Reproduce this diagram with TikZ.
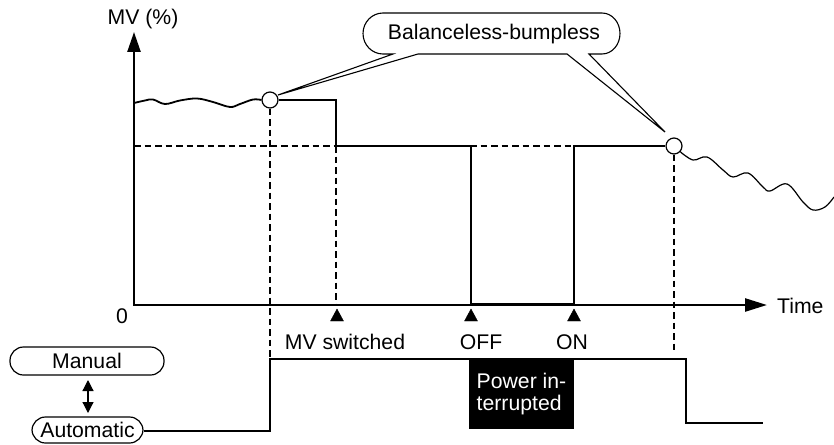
\documentclass[tikz,border=0pt]{standalone}
\usepackage{fontspec}
\setmainfont{Liberation Sans}
\usetikzlibrary{arrows.meta}
\begin{document}
\begin{tikzpicture}[x=1pt,y=-1pt,
  font=\fontsize{21.2}{22.5}\selectfont,
  axis/.style={line width=2.5pt,line join=miter},
  sig/.style={line width=1.9pt,line join=miter},
  lowsig/.style={line width=2.3pt,line join=miter},
  dashline/.style={line width=1.6pt,dash pattern=on 6.5pt off 4pt},
  knot/.style={circle,draw,fill=white,line width=1.2pt,minimum size=16pt,inner sep=0pt},
  pill/.style={draw,line width=1.2pt,rounded corners=13.5pt,inner sep=0pt},
  evtri/.style={fill=black},
  lbl/.style={inner sep=0pt}
]
\useasboundingbox (0,0) rectangle (834,444);

% axes
\draw[axis,{Triangle[length=20pt,width=13pt]}-{Triangle[length=22pt,width=13pt]}]
  (134,32) -- (134,305) -- (767,305);
\node[lbl] (mvlabel) at (143,19) {MV (\%)};
\node[lbl] (zero) at (122,316) {0};
\node[lbl,anchor=west] (time) at (777,306) {Time};

% dashed guides
\draw[dashline] (134,146) -- (574,146);

% circles
\node[knot] (c1) at (270,100) {};
\node[knot] (c2) at (674,146) {};

\draw[dashline] (c1.south) -- (270,359);
\draw[dashline] (336,146) -- (336,305);
\draw[dashline] (c2.south) -- (674,352);

% MV signal
\draw[sig] (c1.east) -- (336,100) -- (336,146) -- (471,146) -- (471,305);
\draw[line width=3.2pt] (471,304.5) -- (574,304.5);
\draw[sig] (574,305) -- (574,146) -- (c2.west);

% wavy lines
\draw[line width=1.8pt] plot[smooth,tension=0.6] coordinates {
  (134,103) (145,100.5) (153,99.5) (165,104) (180,100.5) (197,98.5) (213,102)
  (230,107) (240,104) (253,99.5) (c1.west)};
\draw[line width=1.2pt] plot[smooth,tension=0.6] coordinates {
  (680,151.5) (693,160) (707,157) (723,170) (733,177) (748,173) (763,187)
  (770,191) (787,184) (803,202) (813,210) (825,207) (834,197)};

% callout
\draw[line width=1.1pt,fill=white]
  (393,54) -- (383,54) arc[start angle=90,end angle=270,x radius=20,y radius=20.5]
  -- (602,13) arc[start angle=270,end angle=450,x radius=18,y radius=20.5]
  -- (589,54) -- (665,132) -- (567,54) -- (418,54) -- (278,95) -- cycle;
\node[lbl] (callout) at (494,34) {Balanceless-bumpless};

% event markers
\draw[evtri] (337,309) -- (330.5,321) -- (343.5,321) -- cycle;
\draw[evtri] (471,309) -- (464.5,321) -- (477.5,321) -- cycle;
\draw[evtri] (574,309) -- (567.5,321) -- (580.5,321) -- cycle;
\node[lbl] (mvsw) at (345,342) {MV switched};
\node[lbl] (off) at (481,342) {OFF};
\node[lbl] (on) at (572,342) {ON};

% mode nodes
\node[pill,minimum width=154pt,minimum height=28pt] (manual) at (87,361) {Manual};
\node[pill,minimum width=111pt,minimum height=26pt] (auto) at (87.5,430) {Automatic};
\draw[line width=1.2pt,{Triangle[length=11pt,width=11pt]}-{Triangle[length=11pt,width=11pt]}]
  (88,380) -- (88,413);

% lower signal
\draw[lowsig] (auto.east |- 0,431) -- (270,431) -- (270,359) -- (686,359) -- (686,423) -- (763,423);
\node[fill=black,text=white,minimum width=105pt,minimum height=70pt,inner sep=0pt,
  align=left] (power) at (521.5,394) {Power in-\\terrupted};
\end{tikzpicture}
\end{document}
